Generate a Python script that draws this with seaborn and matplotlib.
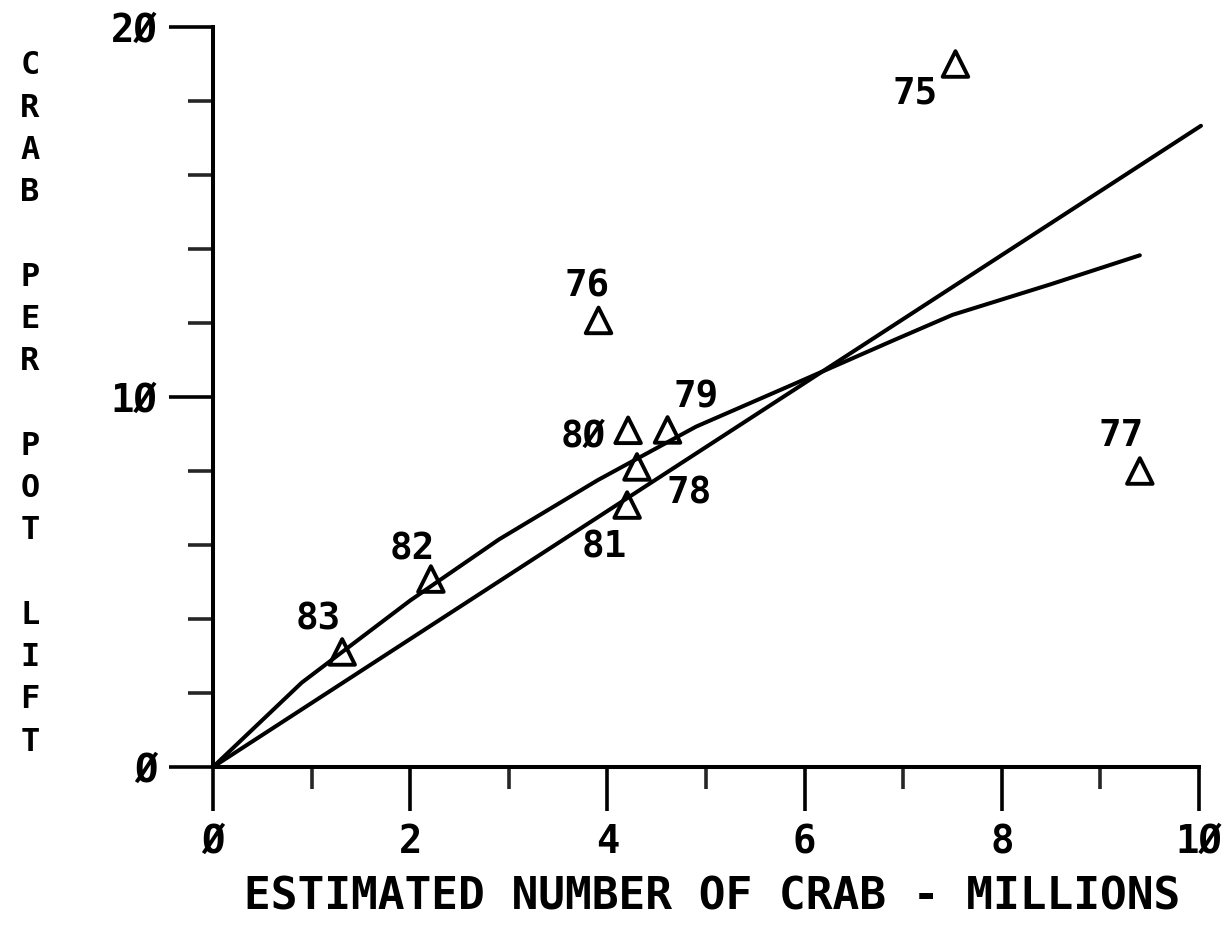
import matplotlib
matplotlib.use("Agg")
import matplotlib.pyplot as plt
import seaborn as sns
import pandas as pd
from matplotlib.ticker import FixedLocator

# ---- data ----
years = ["75", "76", "77", "78", "79", "8Ø", "81", "82", "83"]
crab_millions = [7.53, 3.91, 9.40, 4.30, 4.61, 4.21, 4.20, 2.21, 1.31]
crab_per_pot = [19.0, 12.07, 8.0, 8.11, 9.11, 9.10, 7.08, 5.08, 3.11]

line_x = [0.0, 10.02]
line_y = [0.0, 17.33]

curve_x = [0.0, 0.9, 2.0, 2.9, 3.9, 4.9, 5.9, 6.9, 7.5, 8.5, 9.4]
curve_y = [0.0, 2.28, 4.5, 6.15, 7.75, 9.2, 10.36, 11.53, 12.22, 13.05, 13.83]

x_major = [0, 2, 4, 6, 8, 10]
x_major_labels = ["Ø", "2", "4", "6", "8", "1Ø"]
x_minor = [1, 3, 5, 7, 9]
y_major = [0, 10, 20]
y_major_labels = ["Ø", "1Ø", "2Ø"]
y_minor = [2, 4, 6, 8, 12, 14, 16, 18]

x_title = "ESTIMATED NUMBER OF CRAB - MILLIONS"
y_title = "CRAB PER POT LIFT"

# label offsets in image pixels (right, down) relative to each triangle
label_offsets = {"75": (-40, 30), "76": (-11, -34), "77": (-19, -35),
                 "78": (52, 27), "79": (29, -32), "8Ø": (-45, 7),
                 "81": (-23, 42), "82": (-19, -30), "83": (-24, -32)}

sns.set_theme(style="white")
plt.rcParams["font.family"] = ["DejaVu Sans Mono", "DejaVu Sans"]
plt.rcParams["font.weight"] = "bold"

W, H, DPI = 1232, 930, 100
fig = plt.figure(figsize=(W / DPI, H / DPI), dpi=DPI)
ax = fig.add_axes([213 / W, 163 / H, 986 / W, 740 / H])

pts = pd.DataFrame({"x": crab_millions, "y": crab_per_pot, "year": years})

LW = 2.9
sns.lineplot(x=line_x, y=line_y, ax=ax, color="black", linewidth=LW,
             estimator=None, sort=False, clip_on=False,
             solid_capstyle="round")
sns.lineplot(x=curve_x, y=curve_y, ax=ax, color="black", linewidth=LW,
             estimator=None, sort=False, clip_on=False,
             solid_capstyle="round", solid_joinstyle="round")
sns.scatterplot(data=pts, x="x", y="y", ax=ax, marker="^", s=340,
                facecolor="none", edgecolor="black", linewidth=2.8,
                zorder=5, clip_on=False)

for _, r in pts.iterrows():
    dx, dy = label_offsets[r["year"]]
    ax.annotate(r["year"], (r["x"], r["y"]), xytext=(dx, -dy),
                textcoords="offset pixels", ha="center", va="center",
                fontsize=27, fontweight="bold", color="black")

ax.set_xlim(0, 10)
ax.set_ylim(0, 20)
ax.xaxis.set_major_locator(FixedLocator(x_major))
ax.set_xticklabels(x_major_labels, fontweight="bold")
ax.xaxis.set_minor_locator(FixedLocator(x_minor))
ax.yaxis.set_major_locator(FixedLocator(y_major))
ax.set_yticklabels(y_major_labels, fontweight="bold")
ax.yaxis.set_minor_locator(FixedLocator(y_minor))

ax.tick_params(axis="x", which="major", direction="out", length=31.5,
               width=2.6, pad=9, labelsize=28, colors="black", bottom=True)
ax.tick_params(axis="x", which="minor", direction="out", length=16,
               width=2.6, bottom=True)
ax.tick_params(axis="y", which="major", direction="out", length=32,
               width=2.6, pad=8, labelsize=28, colors="black", left=True)
ax.tick_params(axis="y", which="minor", direction="out", length=18,
               width=2.6, left=True)

for side in ["top", "right"]:
    ax.spines[side].set_visible(False)
for side in ["left", "bottom"]:
    ax.spines[side].set_linewidth(LW)
    ax.spines[side].set_color("black")
ax.set_xlabel("")
ax.set_ylabel("")
ax.grid(False)

fig.text(712 / W, 1 - 897 / H, x_title, ha="center", va="center",
         fontsize=32, fontweight="bold", color="black")

y_stack = "\n\n".join("\n".join(word) for word in y_title.split(" "))
fig.text(30 / W, 1 - 404 / H, y_stack, ha="center", va="center",
         fontsize=23, fontweight="bold", color="black", linespacing=1.47)

fig.savefig("out.png", dpi=DPI, facecolor="white")
